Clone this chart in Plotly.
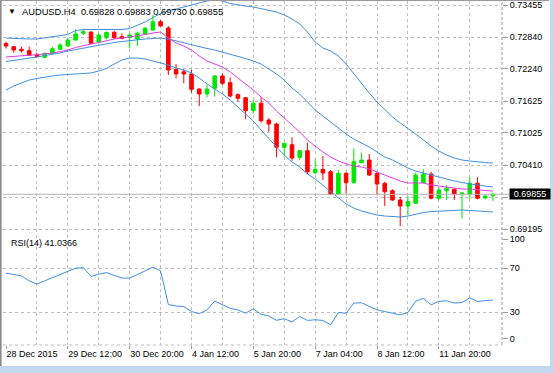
import plotly.graph_objects as go

# ---------------- data ----------------
bar_index = list(range(64))

opens = [0.72723, 0.72662, 0.72612, 0.72586, 0.72504, 0.72460, 0.72536, 0.72612,
         0.72675, 0.72789, 0.72917, 0.72941, 0.72757, 0.72833, 0.72936, 0.72852,
         0.72841, 0.72803, 0.72903, 0.72979, 0.73137, 0.73017, 0.72232, 0.72186,
         0.72143, 0.71857, 0.71762, 0.71871, 0.72105, 0.71977, 0.71749, 0.71692,
         0.71445, 0.71585, 0.71268, 0.71192, 0.70749, 0.70798, 0.70558, 0.70684,
         0.70265, 0.70326, 0.70284, 0.69860, 0.70254, 0.70075, 0.70456, 0.70507,
         0.70254, 0.70064, 0.69923, 0.69746, 0.69632, 0.69683, 0.70075, 0.70241,
         0.69779, 0.69923, 0.69950, 0.69860, 0.69860, 0.70064, 0.69784, 0.69828]
highs = [0.72761, 0.72675, 0.72662, 0.72662, 0.72548, 0.72548, 0.72662, 0.72727,
         0.72822, 0.72993, 0.72993, 0.72947, 0.72917, 0.72947, 0.72966, 0.72917,
         0.72917, 0.72947, 0.73042, 0.73265, 0.73170, 0.73056, 0.72333, 0.72232,
         0.72219, 0.71871, 0.71933, 0.72124, 0.72156, 0.72080, 0.71776, 0.71699,
         0.71648, 0.71699, 0.71300, 0.71215, 0.70836, 0.70939, 0.70697, 0.70836,
         0.70520, 0.70583, 0.70317, 0.70317, 0.70284, 0.70730, 0.70646, 0.70621,
         0.70284, 0.70094, 0.69950, 0.69809, 0.69822, 0.70265, 0.70330, 0.70284,
         0.69988, 0.70031, 0.69969, 0.69885, 0.70178, 0.70178, 0.69836, 0.69883]
lows = [0.72628, 0.72548, 0.72548, 0.72485, 0.72460, 0.72441, 0.72523, 0.72599,
        0.72662, 0.72776, 0.72884, 0.72713, 0.72738, 0.72803, 0.72803, 0.72803,
        0.72631, 0.72675, 0.72884, 0.72966, 0.73042, 0.72124, 0.72061, 0.71966,
        0.71787, 0.71534, 0.71699, 0.71711, 0.71933, 0.71699, 0.71616, 0.71281,
        0.71395, 0.71216, 0.71045, 0.70558, 0.70570, 0.70494, 0.70507, 0.70241,
        0.70241, 0.70127, 0.69841, 0.69841, 0.69874, 0.70064, 0.70444, 0.70203,
        0.69860, 0.69632, 0.69733, 0.69252, 0.69461, 0.69670, 0.70064, 0.69760,
        0.69746, 0.69746, 0.69746, 0.69398, 0.69760, 0.69760, 0.69760, 0.69730]
closes = [0.72675, 0.72599, 0.72586, 0.72498, 0.72472, 0.72536, 0.72624, 0.72694,
          0.72789, 0.72903, 0.72947, 0.72727, 0.72884, 0.72936, 0.72833, 0.72822,
          0.72884, 0.72917, 0.73012, 0.73137, 0.73056, 0.72219, 0.72143, 0.72143,
          0.71852, 0.71762, 0.71857, 0.72105, 0.71966, 0.71724, 0.71680, 0.71445,
          0.71585, 0.71254, 0.71192, 0.70749, 0.70825, 0.70545, 0.70684, 0.70284,
          0.70330, 0.70260, 0.69860, 0.70254, 0.70075, 0.70475, 0.70507, 0.70222,
          0.70051, 0.69904, 0.69746, 0.69632, 0.69714, 0.70222, 0.70241, 0.69779,
          0.69936, 0.69969, 0.69860, 0.69879, 0.70064, 0.69779, 0.69822, 0.69855]

bb_upper = [0.72827, 0.72818, 0.72808, 0.72808, 0.72808, 0.72827, 0.72846, 0.72865,
            0.72894, 0.72970, 0.72989, 0.72989, 0.72989, 0.72989, 0.72989, 0.72989,
            0.73008, 0.73065, 0.73132, 0.73217, 0.73293, 0.73341, 0.73379, 0.73407,
            0.73445, 0.73493, 0.73531, 0.73550, 0.73531, 0.73483, 0.73455, 0.73436,
            0.73417, 0.73388, 0.73360, 0.73322, 0.73265, 0.73189, 0.73094, 0.72941,
            0.72751, 0.72637, 0.72580, 0.72485, 0.72333, 0.72143, 0.71952, 0.71781,
            0.71610, 0.71458, 0.71325, 0.71211, 0.71097, 0.71001, 0.70887, 0.70773,
            0.70678, 0.70602, 0.70545, 0.70507, 0.70488, 0.70469, 0.70459, 0.70450]
bb_middle = [0.72380, 0.72399, 0.72428, 0.72447, 0.72466, 0.72494, 0.72513, 0.72542,
             0.72580, 0.72609, 0.72637, 0.72666, 0.72694, 0.72723, 0.72742, 0.72761,
             0.72780, 0.72789, 0.72808, 0.72818, 0.72827, 0.72808, 0.72770, 0.72732,
             0.72704, 0.72656, 0.72628, 0.72599, 0.72561, 0.72523, 0.72485, 0.72437,
             0.72390, 0.72333, 0.72238, 0.72143, 0.72028, 0.71876, 0.71762, 0.71610,
             0.71458, 0.71344, 0.71230, 0.71116, 0.71001, 0.70906, 0.70830, 0.70754,
             0.70659, 0.70564, 0.70507, 0.70431, 0.70355, 0.70298, 0.70260, 0.70212,
             0.70174, 0.70136, 0.70108, 0.70079, 0.70051, 0.70031, 0.70012, 0.69993]
bb_lower = [0.71838, 0.71914, 0.71971, 0.72028, 0.72057, 0.72086, 0.72105, 0.72124,
            0.72133, 0.72143, 0.72152, 0.72162, 0.72200, 0.72247, 0.72333, 0.72409,
            0.72447, 0.72447, 0.72428, 0.72390, 0.72361, 0.72314, 0.72257, 0.72219,
            0.72162, 0.72067, 0.71952, 0.71857, 0.71762, 0.71648, 0.71515, 0.71382,
            0.71249, 0.71078, 0.70906, 0.70754, 0.70602, 0.70469, 0.70374, 0.70241,
            0.70146, 0.70031, 0.69917, 0.69784, 0.69670, 0.69594, 0.69537, 0.69499,
            0.69461, 0.69442, 0.69432, 0.69423, 0.69442, 0.69480, 0.69508, 0.69527,
            0.69537, 0.69547, 0.69556, 0.69556, 0.69547, 0.69537, 0.69527, 0.69518]
ma_fast = [0.72466, 0.72475, 0.72485, 0.72494, 0.72504, 0.72523, 0.72542, 0.72571,
           0.72599, 0.72647, 0.72685, 0.72713, 0.72742, 0.72780, 0.72808, 0.72827,
           0.72846, 0.72865, 0.72894, 0.72922, 0.72941, 0.72827, 0.72732, 0.72675,
           0.72599, 0.72485, 0.72390, 0.72333, 0.72276, 0.72181, 0.72067, 0.71952,
           0.71838, 0.71705, 0.71591, 0.71439, 0.71306, 0.71154, 0.71040, 0.70887,
           0.70773, 0.70659, 0.70564, 0.70488, 0.70431, 0.70393, 0.70374, 0.70336,
           0.70279, 0.70222, 0.70165, 0.70108, 0.70070, 0.70070, 0.70070, 0.70031,
           0.70012, 0.69993, 0.69974, 0.69955, 0.69955, 0.69936, 0.69927, 0.69917]
rsi = [65.5, 64, 63, 58.5, 55.5, 58.5, 61.5, 64, 67, 70, 70.5, 62.5, 64.5, 66, 63.5, 61,
       61, 64, 67.5, 71, 67.5, 37, 35.5, 35, 30.5, 28.5, 32, 40, 37, 33.5, 32, 29,
       33, 28, 26.5, 22.5, 24, 21, 26, 22.4, 23, 22.4, 18.5, 29.6, 29, 38.2, 38.5, 35.5,
       32, 30.5, 29, 27.5, 29.6, 40, 42.5, 36.6, 39.8, 40.3, 38.2, 38.7, 43, 39.6, 40.5, 41.0366]

symbol = "AUDUSD.H4"
time_tick_bars = [0, 8, 16, 24, 32, 40, 48, 56]
time_tick_labels = ["28 Dec 2015", "29 Dec 12:00", "30 Dec 20:00", "4 Jan 12:00",
                    "5 Jan 20:00", "7 Jan 04:00", "8 Jan 12:00", "11 Jan 20:00"]
time_grid_bars = [4, 8, 12, 16, 20, 24, 28, 32, 36, 40, 44, 48, 52, 56, 60]
price_grid = [0.73455, 0.72840, 0.72240, 0.71625, 0.71025, 0.70410, 0.69795, 0.69195]
price_labels = ["0.73455", "0.72840", "0.72240", "0.71625", "0.71025", "0.70410", "", "0.69195"]
rsi_levels = [30, 70]
rsi_tick_vals = [5.7, 30, 70, 96.6]
rsi_tick_text = ["0", "30", "70", "100"]

# ---------------- styling ----------------
GREEN = "#00e800"
RED = "#ff0000"
BLUE = "#3f8fe0"
MAGENTA = "#e23be2"
GRID = "#bdbdbd"
FAMILY = "Liberation Sans, Arial, sans-serif"
FONT = dict(family=FAMILY, size=9, color="#000000")

fig = go.Figure()
fig.add_trace(go.Candlestick(
    x=bar_index, open=opens, high=highs, low=lows, close=closes,
    increasing=dict(line=dict(color=GREEN, width=1), fillcolor=GREEN),
    decreasing=dict(line=dict(color=RED, width=1), fillcolor=RED),
    whiskerwidth=0, hoverinfo="skip", xaxis="x", yaxis="y", showlegend=False))
for series, color in [(bb_upper, BLUE), (bb_middle, BLUE), (bb_lower, BLUE), (ma_fast, MAGENTA)]:
    fig.add_trace(go.Scatter(x=bar_index, y=series, mode="lines",
                             line=dict(color=color, width=1), hoverinfo="skip",
                             xaxis="x", yaxis="y", showlegend=False))
fig.add_trace(go.Scatter(x=bar_index, y=rsi, mode="lines", line=dict(color=BLUE, width=1),
                         hoverinfo="skip", xaxis="x2", yaxis="y2", showlegend=False))

# plot-area geometry (pixels)
L, R, T, B = 3, 52, 1, 28
W, H = 554, 373
pw, ph = W - L - R, H - T - B
def px(x):
    return (x - L) / pw
def py(y):
    return (H - B - y) / ph

xr = [-0.39, 64.17]
main_dom = [py(233), 1.0]
rsi_dom = [0.0, py(235.3)]

fig.update_layout(
    width=W, height=H, margin=dict(l=L, r=R, t=T, b=B),
    paper_bgcolor="white", plot_bgcolor="white", font=FONT, showlegend=False,
    boxgap=0.34,
    xaxis=dict(domain=[0, 1], anchor="y", range=xr, showticklabels=False, ticks="",
               showgrid=False, zeroline=False, showline=False, matches="x2",
               rangeslider=dict(visible=False),
               minor=dict(tickvals=time_grid_bars, showgrid=True, gridcolor=GRID,
                          griddash="3px,3px", gridwidth=1, ticks="")),
    yaxis=dict(domain=main_dom, anchor="x", side="right", range=[0.69119, 0.73531],
               tickvals=price_grid, ticktext=price_labels, showgrid=True, gridcolor=GRID,
               griddash="3px,3px", gridwidth=1, ticks="outside", ticklen=5,
               tickcolor="#9a9a9a", zeroline=False, showline=False, tickfont=FONT),
    xaxis2=dict(domain=[0, 1], anchor="y2", range=xr, tickvals=time_tick_bars,
                ticktext=time_tick_labels, ticklabelposition="outside right",
                tickangle=0, ticks="outside", ticklen=3, tickcolor="#9a9a9a", showgrid=False,
                zeroline=False, showline=False, tickfont=FONT,
                minor=dict(tickvals=time_grid_bars, showgrid=True, gridcolor=GRID,
                           griddash="3px,3px", gridwidth=1, ticks="")),
    yaxis2=dict(domain=rsi_dom, anchor="x2", side="right", range=[0, 100],
                tickvals=rsi_tick_vals, ticktext=rsi_tick_text, showgrid=False,
                ticks="outside", ticklen=5, tickcolor="#9a9a9a", zeroline=False,
                showline=False, tickfont=FONT,
                minor=dict(tickvals=rsi_levels, showgrid=True, gridcolor=GRID,
                           griddash="3px,3px", gridwidth=1, ticks="")),
)

shapes = [
    # current price line
    dict(type="line", xref="paper", yref="y", x0=0, x1=px(509), y0=closes[-1], y1=closes[-1],
         line=dict(color="#b4b4b4", width=1)),
    # right dashed border of the chart and bottom dashed line
    dict(type="line", xref="paper", yref="paper", x0=1, x1=1, y0=0, y1=1,
         line=dict(color="#9a9a9a", width=1, dash="3px,2px")),
    dict(type="line", xref="paper", yref="paper", x0=0, x1=1, y0=0, y1=0,
         line=dict(color="#bdbdbd", width=1, dash="3px,3px")),
    # window frame
    dict(type="rect", xref="paper", yref="paper", x0=px(0), x1=px(1.6), y0=py(366), y1=py(0),
         fillcolor="#8a8a8a", line=dict(width=0), layer="below"),
    dict(type="rect", xref="paper", yref="paper", x0=px(0), x1=px(549), y0=py(1), y1=py(0),
         fillcolor="#9a9a9a", line=dict(width=0), layer="below"),
    dict(type="rect", xref="paper", yref="paper", x0=px(0), x1=px(554), y0=py(373), y1=py(366),
         fillcolor="#c4d8ef", line=dict(width=0), layer="below"),
    dict(type="rect", xref="paper", yref="paper", x0=px(550), x1=px(554), y0=py(373), y1=py(0),
         fillcolor="#c4d8ef", line=dict(width=0), layer="below"),
]
fig.update_layout(shapes=shapes)

header = f"{symbol}  {opens[-1]:.5f} {highs[-1]:.5f} {lows[-1]:.5f} {closes[-1]:.5f}"
annotations = [
    dict(text="▼", xref="paper", yref="paper", x=px(12), y=py(12), xanchor="center",
         yanchor="middle", showarrow=False, font=dict(family=FAMILY, size=8, color="#000")),
    dict(text=header, xref="paper", yref="paper", x=px(20), y=py(12), xanchor="left",
         yanchor="middle", showarrow=False, font=dict(family=FAMILY, size=9.3, color="#000")),
    dict(text=f"RSI(14) {rsi[-1]:.4f}", xref="paper", yref="paper", x=px(9), y=py(243),
         xanchor="left", yanchor="middle", showarrow=False, font=FONT),
    dict(text=f"{closes[-1]:.5f}", xref="paper", yref="y", x=px(509), y=closes[-1],
         xanchor="left", yanchor="middle", showarrow=False, bgcolor="#000000",
         font=dict(family=FAMILY, size=9, color="#ffffff"),
         width=38, height=8, borderpad=1),
]
fig.update_layout(annotations=annotations)

fig.write_html("out.html", config={"displayModeBar": False},
               post_script="document.body.style.margin='0';document.body.style.overflow='hidden';")
